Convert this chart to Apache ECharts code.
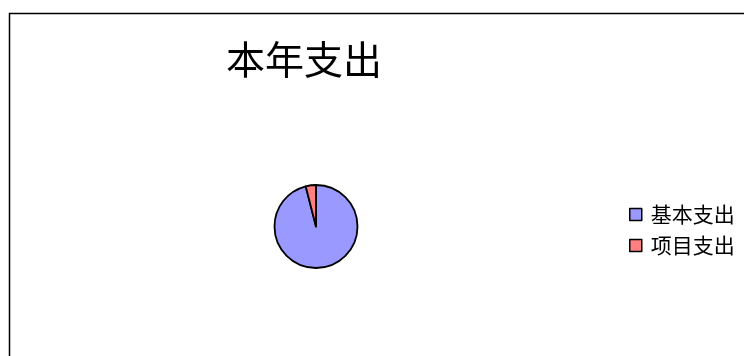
<!DOCTYPE html>
<html>
<head>
<meta charset="utf-8">
<script src="https://cdn.jsdelivr.net/npm/echarts@6/dist/echarts.min.js"></script>
<style>
  html, body { margin: 0; padding: 0; background: #fff; }
  #main { width: 744px; height: 356px; }
</style>
</head>
<body>
<div id="main"></div>
<script>
// 数据
const categories = ['基本支出', '项目支出'];
const values = [96, 4];
const colors = ['#9999FF', '#FF8080'];

const chart = echarts.init(document.getElementById('main'));
const option = {
    animation: false,
    title: {
        text: '本年支出',
        left: 221,
        top: 35,
        textStyle: {
            fontFamily: 'Noto Sans CJK SC',
            fontSize: 39,
            fontWeight: 'normal',
            color: '#000'
        }
    },
    legend: {
        orient: 'vertical',
        left: 624,
        top: 199,
        itemWidth: 12,
        itemHeight: 12,
        itemGap: 10,
        icon: 'rect',
        textStyle: {
            fontFamily: 'Noto Sans CJK SC',
            fontSize: 21,
            color: '#000',
            padding: [0, 0, 0, 4]
        },
        itemStyle: { borderColor: '#000', borderWidth: 1.5 },
        data: categories
    },
    graphic: [{
        type: 'rect',
        shape: { x: 9.5, y: 13.5, width: 800, height: 400 },
        style: { fill: 'none', stroke: '#000', lineWidth: 1.5 },
        silent: true
    }],
    series: [{
        type: 'pie',
        center: [316, 226.5],
        radius: [0, 41.5],
        startAngle: 90,
        clockwise: true,
        label: { show: false },
        labelLine: { show: false },
        emphasis: { disabled: true },
        itemStyle: { borderColor: '#000', borderWidth: 1.8 },
        data: categories.map(function (name, i) {
            return { name: name, value: values[i], itemStyle: { color: colors[i] } };
        })
    }]
};
chart.setOption(option);
</script>
</body>
</html>
